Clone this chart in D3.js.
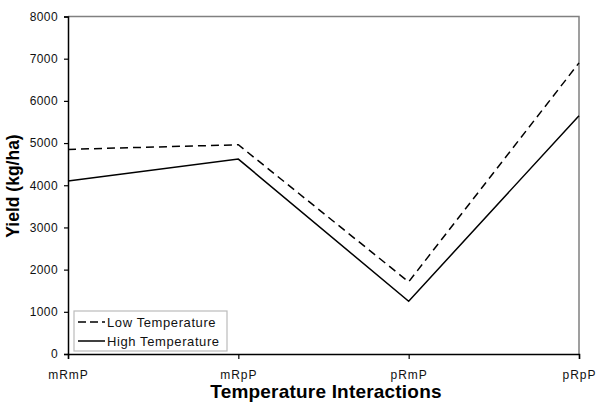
<!DOCTYPE html>
<html>
<head>
<meta charset="utf-8">
<script src="https://cdn.jsdelivr.net/npm/d3@7"></script>
<style>
body { margin: 0; background: #fff; }
text { font-family: "Liberation Sans", Arial, sans-serif; }
</style>
</head>
<body>
<svg id="chart" width="598" height="406"></svg>
<script>
var categories = ["mRmP", "mRpP", "pRmP", "pRpP"]
var lowTemp = [4850, 4960, 1710, 6900]
var highTemp = [4100, 4620, 1250, 5650]
var yTicks = [0, 1000, 2000, 3000, 4000, 5000, 6000, 7000, 8000]

var svg = d3.select("#chart")
var plotL = 68, plotR = 579, plotT = 16.5, plotB = 354

var x = d3.scalePoint().domain(categories).range([plotL, plotR])
var y = d3.scaleLinear().domain([0, 8000]).range([plotB, plotT])

// grey frame top/right
svg.append("path")
    .attr("d", "M" + plotL + "," + plotT + "H" + plotR + "V" + plotB)
    .attr("fill", "none").attr("stroke", "#808080").attr("stroke-width", 1.5)

var yAxis = svg.append("g").attr("transform", "translate(" + plotL + ",0)")
    .call(d3.axisLeft(y).tickValues(yTicks).tickSize(4).tickPadding(6).tickFormat(d3.format("d")))
var xAxis = svg.append("g").attr("transform", "translate(0," + plotB + ")")
    .call(d3.axisBottom(x).tickSize(5).tickPadding(11))

yAxis.selectAll("text").style("font-size", "12px").style("letter-spacing", "0.4px").attr("fill", "#111")
xAxis.selectAll("text").style("font-size", "12px").style("letter-spacing", "1px").attr("fill", "#111")
svg.selectAll(".domain").attr("stroke", "#000").attr("stroke-width", 1.5)
svg.selectAll(".tick line").attr("stroke", "#000").attr("stroke-width", 1.2)

var line = d3.line().x(function(d, i) { return x(categories[i]) }).y(function(d) { return y(d) })

svg.append("path").datum(lowTemp).attr("d", line)
    .attr("fill", "none").attr("stroke", "#000").attr("stroke-width", 1.5)
    .attr("stroke-dasharray", "8,5")
svg.append("path").datum(highTemp).attr("d", line)
    .attr("fill", "none").attr("stroke", "#000").attr("stroke-width", 1.5)

// legend
var legend = svg.append("g")
legend.append("rect").attr("x", 74).attr("y", 311).attr("width", 153).attr("height", 40)
    .attr("fill", "#fff").attr("stroke", "#bbb").attr("stroke-width", 1.2)
var items = [{name: "Low Temperature", dash: "8,4"}, {name: "High Temperature", dash: null}]
items.forEach(function(d, i) {
    var yy = 322 + i * 19
    legend.append("line").attr("x1", 78).attr("x2", 105).attr("y1", yy).attr("y2", yy)
        .attr("stroke", "#000").attr("stroke-width", 1.5).attr("stroke-dasharray", d.dash)
    legend.append("text").attr("x", 107).attr("y", yy + 4.5).text(d.name)
        .style("font-size", "13px").style("letter-spacing", "0.6px").attr("fill", "#111")
})

svg.append("text").attr("x", 326).attr("y", 398).attr("text-anchor", "middle")
    .style("font-size", "19px").style("font-weight", "bold").style("letter-spacing", "0.2px")
    .text("Temperature Interactions")
svg.append("text").attr("transform", "translate(19,186) rotate(-90)").attr("text-anchor", "middle")
    .style("font-size", "17.5px").style("font-weight", "bold").text("Yield (kg/ha)")
</script>
</body>
</html>
